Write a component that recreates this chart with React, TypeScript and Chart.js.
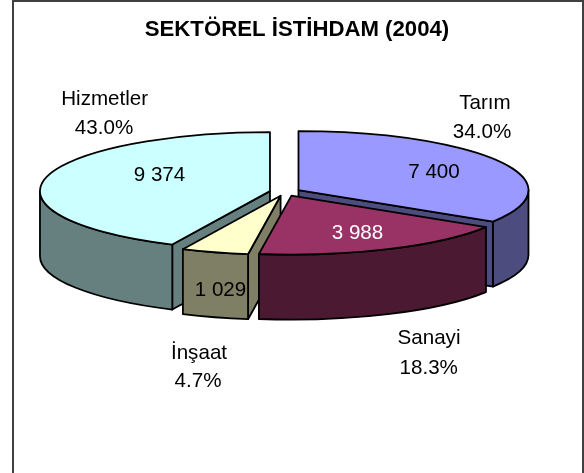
import React, { useEffect, useRef } from "react";
import { Chart, registerables } from "chart.js";

Chart.register(...registerables);

const titleText = "SEKTÖREL İSTİHDAM (2004)";
const categories = ["Tarım", "Sanayi", "İnşaat", "Hizmetler"];
const employment = [7400, 3988, 1029, 9374];
const valueLabels = ["7 400", "3 988", "1 029", "9 374"];
const percentLabels = ["34.0%", "18.3%", "4.7%", "43.0%"];
const topColors = ["#9999FF", "#993366", "#FFFFCC", "#CCFFFF"];
const wallColors = ["#4C4C7F", "#4C1933", "#7F7F66", "#667F7F"];
const valueColors = ["#000000", "#FFFFFF", "#000000", "#000000"];

// layout
const W = 584;
const H = 473;
const CX = 285;
const CY = 192;
const RADIUS = 230;
const SQUASH = 59 / 230;
const DEPTH = 65;
const EXPLODE = 15.4;
const DRAW_ORDER = [3, 0, 2, 1];
const NAME_POS = [[485, 103], [429, 338], [199, 353], [104.7, 99]];
const PCT_POS = [[482, 132], [428.7, 368], [198, 381], [104, 128]];
const VALUE_POS = [[434, 172], [357.5, 233], [220.5, 290], [159.5, 175]];

const pie3d = {
  id: "pie3d",
  beforeDatasetsDraw(chart: any) {
    const ctx = chart.ctx;
    const arcs = chart.getDatasetMeta(0).data;
    ctx.save();
    ctx.lineWidth = 1.8;
    ctx.lineJoin = "round";
    ctx.strokeStyle = "#000";
    for (const i of DRAW_ORDER) {
      const arc = arcs[i];
      const s = arc.startAngle;
      const e = arc.endAngle;
      const R = arc.outerRadius;
      const mid = (s + e) / 2;
      const ox = arc.x + EXPLODE * Math.cos(mid);
      const oy = arc.y + EXPLODE * SQUASH * Math.sin(mid);
      const px = (a: number) => ox + R * Math.cos(a);
      const py = (a: number) => oy + R * SQUASH * Math.sin(a);
      ctx.fillStyle = wallColors[i];
      // radial cut faces that look towards the viewer
      const faces: number[] = [];
      if (Math.cos(s) < 0) faces.push(s);
      if (Math.cos(e) > 0) faces.push(e);
      for (const a of faces) {
        ctx.beginPath();
        ctx.moveTo(ox, oy);
        ctx.lineTo(px(a), py(a));
        ctx.lineTo(px(a), py(a) + DEPTH);
        ctx.lineTo(ox, oy + DEPTH);
        ctx.closePath();
        ctx.fill();
        ctx.stroke();
      }
      // outer wall, only the part facing the viewer
      const a0 = Math.max(s, 0);
      const a1 = Math.min(e, Math.PI);
      if (a1 > a0) {
        ctx.beginPath();
        ctx.ellipse(ox, oy, R, R * SQUASH, 0, a0, a1);
        ctx.lineTo(px(a1), py(a1) + DEPTH);
        ctx.ellipse(ox, oy + DEPTH, R, R * SQUASH, 0, a1, a0, true);
        ctx.closePath();
        ctx.fill();
        ctx.stroke();
      }
      // top face: the library's own arc, squashed
      ctx.save();
      ctx.translate(ox, oy);
      ctx.scale(1, SQUASH);
      ctx.translate(-arc.x, -arc.y);
      arc.draw(ctx);
      ctx.restore();
      ctx.beginPath();
      ctx.moveTo(ox, oy);
      ctx.ellipse(ox, oy, R, R * SQUASH, 0, s, e);
      ctx.closePath();
      ctx.stroke();
    }
    ctx.restore();
    return false;
  },
  afterDraw(chart: any) {
    const ctx = chart.ctx;
    ctx.save();
    // frame
    ctx.fillStyle = "#404040";
    ctx.fillRect(12, 0, 2, H);
    ctx.fillRect(12, 0, W - 12, 2);
    ctx.fillRect(W - 2, 0, 2, H);
    ctx.textAlign = "center";
    ctx.textBaseline = "middle";
    ctx.fillStyle = "#000";
    ctx.font = 'bold 22.2px "Liberation Sans"';
    ctx.fillText(titleText, 297, 30);
    ctx.font = '20.6px "Liberation Sans"';
    categories.forEach((name, i) => {
      ctx.fillStyle = "#000";
      ctx.fillText(name, NAME_POS[i][0], NAME_POS[i][1]);
      ctx.fillText(percentLabels[i], PCT_POS[i][0], PCT_POS[i][1]);
      ctx.fillStyle = valueColors[i];
      ctx.fillText(valueLabels[i], VALUE_POS[i][0], VALUE_POS[i][1]);
    });
    ctx.restore();
  },
};

export default function App() {
  const ref = useRef<HTMLCanvasElement>(null);
  useEffect(() => {
    const chart = new Chart(ref.current as HTMLCanvasElement, {
      type: "pie",
      data: {
        labels: categories,
        datasets: [
          {
            data: employment,
            backgroundColor: topColors,
            borderWidth: 0,
            radius: RADIUS,
          },
        ],
      },
      options: {
        animation: false,
        responsive: false,
        layout: {
          padding: { left: 0, right: W - 2 * CX, top: 0, bottom: H - 2 * CY },
        },
        plugins: { legend: { display: false }, tooltip: { enabled: false } },
      },
      plugins: [pie3d],
    } as any);
    return () => chart.destroy();
  }, []);
  return (
    <canvas
      ref={ref}
      width={W}
      height={H}
      style={{ position: "absolute", left: 0, top: 0, width: W, height: H, background: "#fff" }}
    />
  );
}
